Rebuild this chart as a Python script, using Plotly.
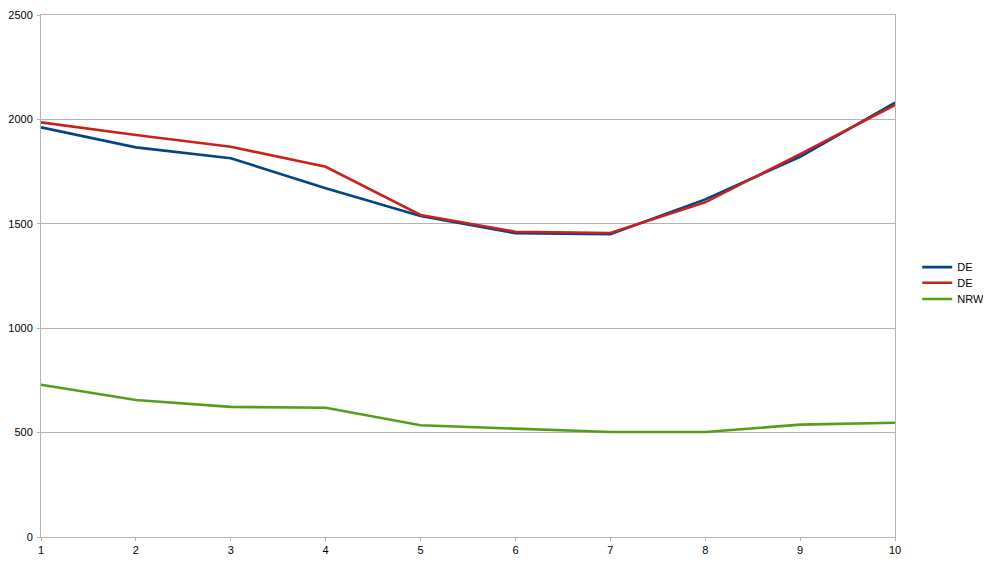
import plotly.graph_objects as go

x = [1, 2, 3, 4, 5, 6, 7, 8, 9, 10]
de_blue = [1962, 1866, 1814, 1670, 1537, 1455, 1450, 1617, 1821, 2080]
de_red = [1986, 1925, 1869, 1773, 1542, 1462, 1456, 1603, 1834, 2069]
nrw = [729, 656, 623, 619, 535, 520, 503, 503, 538, 547]

names = ["DE", "DE", "NRW"]
colors = ["#004586", "#c9211e", "#579d1c"]
legend_ids = ["legend", "legend2", "legend3"]
legend_y = [0.517, 0.487, 0.456]

fig = go.Figure()
for name, ys, c, lg in zip(names, [de_blue, de_red, nrw], colors, legend_ids):
    fig.add_trace(go.Scatter(x=x, y=ys, mode="lines", name=name, legend=lg,
                             line=dict(color=c, width=2.6)))

axis_common = dict(showline=True, linecolor="#b3b3b3", linewidth=1, mirror=True,
                   ticks="outside", ticklen=3, tickcolor="#b3b3b3",
                   tickfont=dict(family="Liberation Sans", size=11, color="#000000"),
                   zeroline=False, automargin=False)

legend_common = dict(x=1.026, xanchor="left", yanchor="middle",
                     font=dict(family="Liberation Sans", size=11, color="#000000"),
                     bgcolor="rgba(0,0,0,0)", itemwidth=30)

fig.update_layout(
    width=983, height=547,
    margin=dict(l=33, r=96, t=7, b=18, autoexpand=False),
    paper_bgcolor="white", plot_bgcolor="white",
    font=dict(family="Liberation Sans", size=11, color="#000000"),
    xaxis=dict(range=[1, 10], dtick=1, showgrid=False, **axis_common),
    yaxis=dict(range=[0, 2500], dtick=500, showgrid=True, gridcolor="#b3b3b3",
               gridwidth=1, ticklabelstandoff=2, **axis_common),
    legend=dict(y=legend_y[0], **legend_common),
    legend2=dict(y=legend_y[1], **legend_common),
    legend3=dict(y=legend_y[2], **legend_common),
    showlegend=True,
)

fig.write_html("out.html")
